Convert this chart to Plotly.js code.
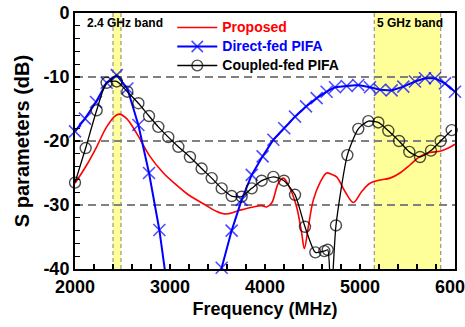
<!DOCTYPE html>
<html>
<head>
<meta charset="utf-8">
<script src="https://cdn.plot.ly/plotly-3.0.1.min.js"></script>
<style>html,body{margin:0;padding:0;background:#fff;}#chart{width:465px;height:327px;}</style>
</head>
<body>
<div id="chart"></div>
<script>
// ---- Data ----
const proposedFreq = [2000,2123,2228,2333,2421,2467,2544,2649,2789,2930,3070,3193,3351,3491,3596,3737,3877,3960,4018,4070,4140,4193,4263,4333,4386,4414,4456,4509,4579,4649,4700,4754,4842,4930,5018,5105,5211,5316,5421,5526,5632,5737,5842,5930,6000];
const proposedS11  = [-26.6,-23.75,-20.9,-17.8,-16.1,-15.8,-16.5,-18.8,-22.4,-25.0,-26.9,-28.4,-29.8,-31.0,-31.4,-30.8,-30.3,-30.1,-30.3,-29.7,-26.6,-25.8,-27.4,-30.3,-34.4,-36.8,-33.4,-29.2,-26.5,-25.0,-25.2,-25.6,-27.9,-29.6,-27.9,-26.6,-26.1,-25.8,-25.0,-23.75,-22.4,-21.8,-21.6,-21.1,-20.5];

const directFreq = [2000,2105,2221,2333,2439,2551,2667,2779,2888,3000,3440,3544,3649,3754,3860,3975,4088,4203,4316,4432,4544,4649,4737,4860,4982,5105,5211,5333,5456,5579,5684,5789,5895,6000];
const directS11  = [-18.5,-16.5,-13.9,-10.9,-9.7,-11.8,-17.5,-25.0,-33.9,-46,-47,-39.8,-34.0,-29.2,-25.3,-22.4,-19.8,-18.0,-16.2,-14.6,-13.3,-12.3,-11.6,-11.4,-11.25,-11.6,-12.0,-12.1,-11.5,-10.7,-10.2,-10.2,-11.0,-12.3];

const coupledFreq = [2000,2112,2228,2333,2439,2551,2667,2779,2877,2982,3088,3210,3333,3439,3544,3649,3754,3860,3965,4088,4200,4316,4421,4530,4625,4660,4695,4747,4867,4982,5088,5193,5298,5411,5519,5632,5747,5849,5965];
const coupledS11  = [-26.5,-21.1,-15.2,-10.9,-10.7,-12.3,-14.1,-16.1,-17.8,-19.4,-20.9,-22.5,-24.3,-25.8,-27.4,-28.6,-28.7,-27.4,-26.2,-25.6,-26.2,-28.4,-33.4,-37.4,-37.2,-37.0,-45,-33.2,-22.2,-18.1,-16.9,-17.1,-18.4,-20.0,-21.7,-22.5,-21.5,-20.0,-18.3];

const bands = [[2400, 2484], [5150, 5850]];
const bandLabels = ['2.4 GHz band', '5 GHz band'];
const xTickVals = [2000, 3000, 4000, 5000, 6000];
const yTickVals = [0, -10, -20, -30, -40];
const seriesNames = ['Proposed', 'Direct-fed PIFA', 'Coupled-fed PIFA'];

// ---- Styling ----
const FONT = 'Liberation Sans, Arial, sans-serif';
const COLORS = ['#ff0000', '#0000ff', '#000000'];
const visibleSize = (arr, s) => arr.map(v => (v < -40.5 ? 0 : s));
const legendName = i => '<span style="color:' + COLORS[i] + ';font-size:14px">' + seriesNames[i] + '</span>';

const traces = [
  {
    x: proposedFreq, y: proposedS11, mode: 'lines', name: legendName(0),
    line: {color: COLORS[0], width: 1.6, shape: 'spline', smoothing: 1}
  },
  {
    x: directFreq, y: directS11, mode: 'lines+markers', name: legendName(1),
    line: {color: COLORS[1], width: 2},
    marker: {symbol: 'x-thin-open', size: visibleSize(directS11, 12), color: COLORS[1], line: {color: COLORS[1], width: 1.6}},
    cliponaxis: false
  },
  {
    x: coupledFreq, y: coupledS11, mode: 'lines+markers', name: legendName(2),
    line: {color: COLORS[2], width: 1.3, shape: 'spline', smoothing: 0.6},
    marker: {symbol: 'circle-open', size: visibleSize(coupledS11, 11), color: COLORS[2], line: {color: COLORS[2], width: 1.4}},
    cliponaxis: false
  }
];

const shapes = [];
bands.forEach(b => {
  shapes.push({type: 'rect', xref: 'x', yref: 'paper', x0: b[0], x1: b[1], y0: 0, y1: 1,
    fillcolor: '#ffff99', line: {width: 0}, layer: 'below'});
  b.forEach(edge => shapes.push({type: 'line', xref: 'x', yref: 'paper', x0: edge, x1: edge, y0: 0, y1: 1,
    line: {color: '#808080', width: 1, dash: '4px,3px'}, layer: 'below'}));
});

const annotations = bands.map((b, i) => ({
  x: b[0], xref: 'x', xanchor: 'left', xshift: i === 0 ? -28 : 1,
  y: 1, yref: 'paper', yanchor: 'top', yshift: -1,
  text: bandLabels[i], showarrow: false,
  font: {family: 'Liberation Sans Narrow, Arial Narrow, sans-serif', size: 12, color: '#000', weight: 'bold'}
}));

const layout = {
  width: 465, height: 327,
  margin: {l: 75, r: 10, t: 13, b: 58},
  paper_bgcolor: '#ffffff', plot_bgcolor: '#ffffff',
  font: {family: FONT, color: '#000'},
  showlegend: true,
  legend: {
    x: 0.256, y: 1.0, xanchor: 'left', yanchor: 'top',
    bgcolor: 'rgba(0,0,0,0)', itemwidth: 40,
    font: {family: FONT, size: 12, weight: 'bold'},
    tracegroupgap: 0
  },
  xaxis: {
    range: [1999.9, 6000.1], tickvals: xTickVals, ticktext: xTickVals.map(String),
    ticklabeloverflow: 'allow',
    ticks: 'inside', ticklen: 5, tickwidth: 1.5, tickcolor: '#000',
    minor: {dtick: 200, ticks: 'inside', ticklen: 5, tickwidth: 1.2, tickcolor: '#000', showgrid: false},
    showline: true, linecolor: '#000', linewidth: 2, mirror: true,
    showgrid: false, zeroline: false, automargin: 'bottom',
    tickfont: {family: FONT, size: 18, weight: 'bold'},
    title: {text: 'Frequency (MHz)', font: {family: FONT, size: 18, weight: 'bold'}, standoff: 7}
  },
  yaxis: {
    range: [-40, 0], tickvals: yTickVals, ticktext: yTickVals.map(String),
    ticks: 'inside', ticklen: 5, tickwidth: 1.5, tickcolor: '#000',
    minor: {dtick: 2, ticks: 'inside', ticklen: 5, tickwidth: 1.2, tickcolor: '#000', showgrid: false},
    showline: true, linecolor: '#000', linewidth: 2, mirror: true,
    showgrid: true, gridcolor: '#808080', gridwidth: 1.5, griddash: '8px,5px', zeroline: false,
    automargin: 'left',
    tickfont: {family: FONT, size: 18, weight: 'bold'},
    title: {text: 'S parameters (dB)', font: {family: FONT, size: 20, weight: 'bold'}, standoff: 8}
  },
  shapes: shapes,
  annotations: annotations
};

Plotly.newPlot('chart', traces, layout, {displayModeBar: false, staticPlot: true});
</script>
</body>
</html>
